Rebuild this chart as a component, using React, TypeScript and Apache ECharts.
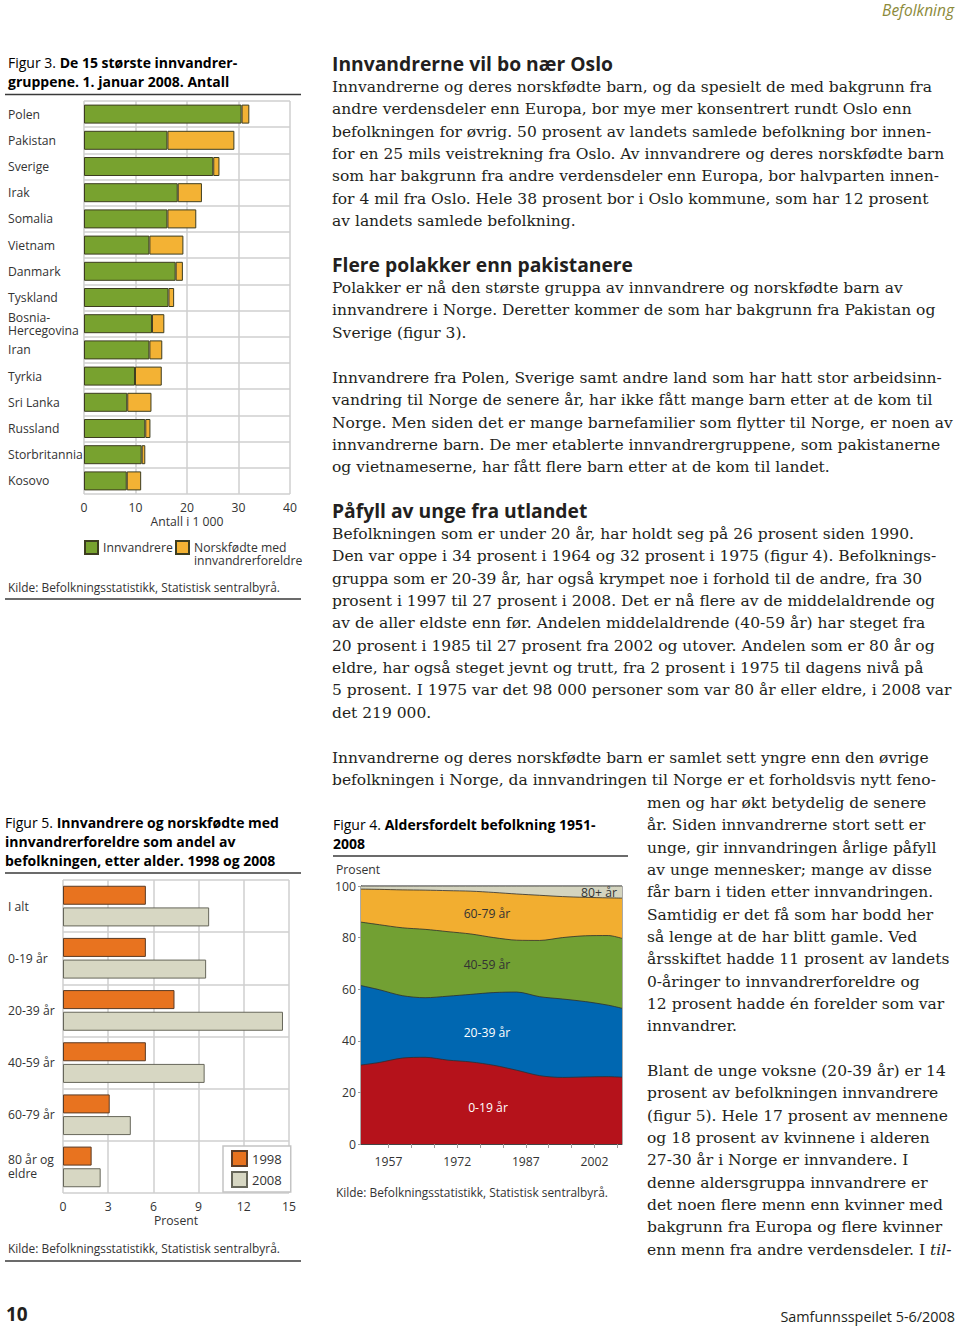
import React, { useEffect, useRef } from 'react';
import * as echarts from 'echarts';

// ---------- Figur 3 data ----------
const countries = ['Polen', 'Pakistan', 'Sverige', 'Irak', 'Somalia', 'Vietnam', 'Danmark', 'Tyskland', 'Bosnia-\nHercegovina', 'Iran', 'Tyrkia', 'Sri Lanka', 'Russland', 'Storbritannia', 'Kosovo'];
const innvandrere = [30.6, 16.2, 25.1, 18.2, 16.2, 12.7, 17.8, 16.4, 13.2, 12.7, 9.9, 8.4, 11.9, 11.2, 8.3];
const norskfodte = [1.5, 13.0, 1.2, 4.7, 5.6, 6.6, 1.4, 1.1, 2.4, 2.5, 5.2, 4.7, 1.0, 0.7, 2.8];
const fig3Ticks = [0, 10, 20, 30, 40];

// ---------- Figur 5 data ----------
const ageGroups = ['I alt', '0-19 år', '20-39 år', '40-59 år', '60-79 år', '80 år og\neldre'];
const share1998 = [5.5, 5.5, 7.4, 5.5, 3.1, 1.9];
const share2008 = [9.7, 9.5, 14.6, 9.4, 4.5, 2.5];

// ---------- Figur 4 data (prosent per aldersgruppe) ----------
const years = [1951, 1955, 1960, 1965, 1970, 1975, 1980, 1985, 1990, 1995, 2000, 2005, 2008];
const age0_19 = [30.6, 31.6, 33.3, 33.6, 32.5, 31.8, 30.5, 28.6, 26.5, 25.8, 26.0, 26.1, 25.9];
const age20_39 = [30.8, 28.2, 24.2, 23.1, 24.8, 26.2, 28.2, 30.3, 30.6, 30.4, 29.2, 27.7, 26.7];
const age40_59 = [24.6, 25.2, 26.3, 26.5, 25.0, 23.4, 21.3, 20.1, 21.8, 23.8, 25.5, 27.0, 27.1];
const age60_79 = [12.8, 13.7, 14.7, 15.2, 15.9, 16.6, 17.5, 17.9, 17.5, 15.9, 14.9, 14.6, 15.6];
const age80 = [1.2, 1.3, 1.5, 1.6, 1.8, 2.0, 2.5, 3.1, 3.6, 4.1, 4.4, 4.6, 4.7];
const ageNames = ['0-19 år', '20-39 år', '40-59 år', '60-79 år', '80+ år'];
const fig4TickYears = [1957, 1962, 1967, 1972, 1977, 1982, 1987, 1992, 1997, 2002, 2007];
const fig4LabelYears = [1957, 1972, 1987, 2002];

// ---------- Body text ----------
const p1 = [
  'Innvandrerne og deres norskfødte barn, og da spesielt de med bakgrunn fra',
  'andre verdensdeler enn Europa, bor mye mer konsentrert rundt Oslo enn',
  'befolkningen for øvrig. 50 prosent av landets samlede befolkning bor innen-',
  'for en 25 mils veistrekning fra Oslo. Av innvandrere og deres norskfødte barn',
  'som har bakgrunn fra andre verdensdeler enn Europa, bor halvparten innen-',
  'for 4 mil fra Oslo. Hele 38 prosent bor i Oslo kommune, som har 12 prosent',
  'av landets samlede befolkning.',
];
const p2 = [
  'Polakker er nå den største gruppa av innvandrere og norskfødte barn av',
  'innvandrere i Norge. Deretter kommer de som har bakgrunn fra Pakistan og',
  'Sverige (figur 3).',
];
const p3 = [
  'Innvandrere fra Polen, Sverige samt andre land som har hatt stor arbeidsinn-',
  'vandring til Norge de senere år, har ikke fått mange barn etter at de kom til',
  'Norge. Men siden det er mange barnefamilier som flytter til Norge, er noen av',
  'innvandrerne barn. De mer etablerte innvandrergruppene, som pakistanerne',
  'og vietnameserne, har fått flere barn etter at de kom til landet.',
];
const p4 = [
  'Befolkningen som er under 20 år, har holdt seg på 26 prosent siden 1990.',
  'Den var oppe i 34 prosent i 1964 og 32 prosent i 1975 (figur 4). Befolknings-',
  'gruppa som er 20-39 år, har også krympet noe i forhold til de andre, fra 30',
  'prosent i 1997 til 27 prosent i 2008. Det er nå flere av de middelaldrende og',
  'av de aller eldste enn før. Andelen middelaldrende (40-59 år) har steget fra',
  '20 prosent i 1985 til 27 prosent fra 2002 og utover. Andelen som er 80 år og',
  'eldre, har også steget jevnt og trutt, fra 2 prosent i 1975 til dagens nivå på',
  '5 prosent. I 1975 var det 98 000 personer som var 80 år eller eldre, i 2008 var',
  'det 219 000.',
];
const p5a = [
  'Innvandrerne og deres norskfødte barn er samlet sett yngre enn den øvrige',
  'befolkningen i Norge, da innvandringen til Norge er et forholdsvis nytt feno-',
];
const p5b = [
  'men og har økt betydelig de senere',
  'år. Siden innvandrerne stort sett er',
  'unge, gir innvandringen årlige påfyll',
  'av unge mennesker; mange av disse',
  'får barn i tiden etter innvandringen.',
  'Samtidig er det få som har bodd her',
  'så lenge at de har blitt gamle. Ved',
  'årsskiftet hadde 11 prosent av landets',
  '0-åringer to innvandrerforeldre og',
  '12 prosent hadde én forelder som var',
  'innvandrer.',
];
const p6 = [
  'Blant de unge voksne (20-39 år) er 14',
  'prosent av befolkningen innvandrere',
  '(figur 5). Hele 17 prosent av mennene',
  'og 18 prosent av kvinnene i alderen',
  '27-30 år i Norge er innvandere. I',
  'denne aldersgruppa innvandrere er',
  'det noen flere menn enn kvinner med',
  'bakgrunn fra Europa og flere kvinner',
];
const p6last = 'enn menn fra andre verdensdeler. I ';
const p6lastItalic = 'til-';

const SANS = '"Open Sans", "Noto Sans", sans-serif';
const SERIF = '"DejaVu Serif", serif';
const LH = 22.33;
const TXT = '#333';
const GRIDC = '#cfcfcf';
const FS = 12.2;

function buildOption(): any {
  const axisLbl = { fontFamily: SANS, fontSize: FS, color: TXT };
  const rule = (x1: number, y: number, x2: number) => ({
    type: 'line', shape: { x1, y1: y, x2, y2: y }, style: { stroke: '#3a3a3a', lineWidth: 1.3 }, silent: true,
  });
  const titleRich = {
    n: { fontFamily: SANS, fontSize: 14, fontWeight: 'normal', color: '#222', lineHeight: 19 },
    b: { fontFamily: SANS, fontSize: 14, fontWeight: 'bold', color: '#222', lineHeight: 19 },
  };
  const ftext = (x: number, y: number, text: string, extra: any = {}) => ({
    type: 'text', x, y, silent: true, z: 100,
    style: { text, fontFamily: SANS, fontSize: FS, fill: TXT, verticalAlign: 'middle', align: 'left', ...extra },
  });
  const groups = [age0_19, age20_39, age40_59, age60_79, age80];
  const colors = ['#b5121b', '#0067b1', '#72a033', '#f2ae30', '#d4d4bf'];
  // cumulative upper boundary of each age band
  const cumulative = (k: number) => years.map((yr, i) => {
    let s = 0;
    for (let j = 0; j <= k; j++) s += groups[j][i];
    return [yr, Math.round(s * 10) / 10];
  });
  const areaSeries = [4, 3, 2, 1, 0].map((k) => ({
    type: 'line', name: ageNames[k], xAxisIndex: 2, yAxisIndex: 2, data: cumulative(k),
    symbol: 'none', smooth: 0.3,
    lineStyle: { color: '#2f2f2f', width: 0.8 },
    itemStyle: { color: colors[k] },
    areaStyle: { color: colors[k], opacity: 1 },
  }));

  return {
    animation: false,
    textStyle: { fontFamily: SANS },
    grid: [
      { left: 84, top: 101, width: 206, height: 393 },
      { left: 63, top: 880, width: 226, height: 313 },
      { left: 361, top: 886, width: 261, height: 258, show: true, borderColor: '#555', borderWidth: 1 },
    ],
    xAxis: [
      {
        gridIndex: 0, type: 'value', min: fig3Ticks[0], max: fig3Ticks[fig3Ticks.length - 1], interval: 10,
        axisLine: { show: false }, axisTick: { show: false },
        splitLine: { lineStyle: { color: GRIDC, width: 1.5 } },
        axisLabel: { ...axisLbl, margin: 7 },
        name: 'Antall i 1 000', nameLocation: 'middle', nameGap: 21,
        nameTextStyle: { ...axisLbl },
      },
      {
        gridIndex: 1, type: 'value', min: 0, max: 15, interval: 3,
        axisLine: { show: false }, axisTick: { show: false },
        splitLine: { lineStyle: { color: GRIDC, width: 1.5 } },
        axisLabel: { ...axisLbl, margin: 7 },
        name: 'Prosent', nameLocation: 'middle', nameGap: 21,
        nameTextStyle: { ...axisLbl },
      },
      {
        gridIndex: 2, type: 'value', min: 1951, max: 2008,
        axisLine: { show: true, lineStyle: { color: '#444', width: 1 } },
        axisTick: { show: true, customValues: fig4TickYears, length: 4, lineStyle: { color: '#999' } },
        splitLine: { show: false },
        axisLabel: { ...axisLbl, margin: 11, customValues: fig4LabelYears, formatter: (v: number) => String(v) },
      },
    ],
    yAxis: [
      {
        gridIndex: 0, type: 'category', inverse: true, data: countries,
        axisLine: { show: false }, axisTick: { show: false },
        splitLine: { show: true, lineStyle: { color: GRIDC, width: 1.5 } },
        axisLabel: { ...axisLbl, align: 'left', margin: 76, lineHeight: 13 },
      },
      {
        gridIndex: 1, type: 'category', inverse: true, data: ageGroups,
        axisLine: { show: false }, axisTick: { show: false },
        splitLine: { show: true, lineStyle: { color: GRIDC, width: 1.5 } },
        axisLabel: { ...axisLbl, align: 'left', margin: 55, lineHeight: 14 },
      },
      {
        gridIndex: 2, type: 'value', min: 0, max: 100, interval: 20,
        axisLine: { show: true, lineStyle: { color: '#444', width: 1 } },
        axisTick: { show: true, length: 3, lineStyle: { color: '#999' } },
        splitLine: { show: false },
        axisLabel: { ...axisLbl, margin: 5 },
      },
    ],
    legend: [
      {
        left: 84, top: 540, padding: 0, itemWidth: 13, itemHeight: 13, icon: 'rect', selectedMode: false,
        data: ['Innvandrere'], textStyle: { ...axisLbl },
      },
      {
        left: 175, top: 540, padding: 0, itemWidth: 13, itemHeight: 26,
        icon: 'path://M0,0H13V13H0Z M0,26', selectedMode: false,
        data: ['Norskfødte med innvandrerforeldre'],
        formatter: () => 'Norskfødte med\ninnvandrerforeldre',
        textStyle: { ...axisLbl, lineHeight: 13 },
      },
      {
        left: 223, top: 1146, orient: 'vertical', padding: [4, 9, 4, 8], itemGap: 4,
        itemWidth: 15, itemHeight: 15, icon: 'rect', selectedMode: false,
        backgroundColor: '#fff', borderColor: '#c4c4c4', borderWidth: 1.5,
        data: ['1998', '2008'], textStyle: { ...axisLbl, fontSize: 13 },
      },
    ],
    series: [
      {
        type: 'bar', name: 'Innvandrere', xAxisIndex: 0, yAxisIndex: 0, stack: 'f3', data: innvandrere,
        barWidth: 19, itemStyle: { color: '#78a22f', borderColor: '#3d3d20', borderWidth: 1 },
      },
      {
        type: 'bar', name: 'Norskfødte med innvandrerforeldre', xAxisIndex: 0, yAxisIndex: 0, stack: 'f3', data: norskfodte,
        barWidth: 19, itemStyle: { color: '#f3b234', borderColor: '#3d3d20', borderWidth: 1 },
      },
      {
        type: 'bar', name: '1998', xAxisIndex: 1, yAxisIndex: 1, data: share1998,
        barWidth: 19, barGap: '14%', itemStyle: { color: '#e8731f', borderColor: '#5b3b25', borderWidth: 1 },
      },
      {
        type: 'bar', name: '2008', xAxisIndex: 1, yAxisIndex: 1, data: share2008,
        barWidth: 19, barGap: '14%', itemStyle: { color: '#d7d7c3', borderColor: '#66665a', borderWidth: 1 },
      },
      ...areaSeries,
    ],
    graphic: [
      // Figur 3
      { type: 'text', x: 8, y: 53, silent: true, style: { text: '{n|Figur 3. }{b|De 15 største innvandrer-}\n{b|gruppene. 1. januar 2008. Antall}', rich: titleRich } },
      rule(5, 94.5, 301),
      ftext(8, 587, 'Kilde: Befolkningsstatistikk, Statistisk sentralbyrå.', { fontSize: 11.9 }),
      rule(5, 599, 301),
      // Figur 5
      { type: 'text', x: 5, y: 813, silent: true, style: { text: '{n|Figur 5. }{b|Innvandrere og norskfødte med}\n{b|innvandrerforeldre som andel av}\n{b|befolkningen, etter alder. 1998 og 2008}', rich: titleRich } },
      rule(5, 873, 301),
      ftext(8, 1248, 'Kilde: Befolkningsstatistikk, Statistisk sentralbyrå.', { fontSize: 11.9 }),
      rule(5, 1261, 301),
      // Figur 4
      { type: 'text', x: 333, y: 815, silent: true, style: { text: '{n|Figur 4. }{b|Aldersfordelt befolkning 1951-}\n{b|2008}', rich: titleRich } },
      rule(333, 856, 628),
      ftext(336, 869, 'Prosent'),
      ftext(599, 892, '80+ år', { align: 'center', fill: '#333' }),
      ftext(487, 913, '60-79 år', { align: 'center', fill: '#333' }),
      ftext(487, 964, '40-59 år', { align: 'center', fill: '#333' }),
      ftext(487, 1032, '20-39 år', { align: 'center', fill: '#fff' }),
      ftext(488, 1107, '0-19 år', { align: 'center', fill: '#fff' }),
      ftext(336, 1192, 'Kilde: Befolkningsstatistikk, Statistisk sentralbyrå.', { fontSize: 11.9 }),
    ],
  };
}

function Lines({ x, y, lines, children }: { x: number; y: number; lines: string[]; children?: any }) {
  return (
    <div style={{
      position: 'absolute', left: x, top: y - 11, fontFamily: SERIF, fontSize: 15.5,
      lineHeight: LH + 'px', whiteSpace: 'pre', color: '#231f20',
    }}>
      {lines.join('\n')}
      {children}
    </div>
  );
}

function Heading({ x, y, text }: { x: number; y: number; text: string }) {
  return (
    <div style={{
      position: 'absolute', left: x, top: y - 13, fontFamily: SANS, fontWeight: 700, fontSize: 19.3,
      lineHeight: '26px', whiteSpace: 'pre', color: '#231f20',
    }}>{text}</div>
  );
}

export default function App() {
  const ref = useRef<HTMLDivElement>(null);
  useEffect(() => {
    const chart = echarts.init(ref.current as HTMLDivElement, null, { renderer: 'svg' });
    chart.setOption(buildOption());
    return () => chart.dispose();
  }, []);
  return (
    <div style={{ position: 'absolute', left: 0, top: 0, width: 960, height: 1328, background: '#fff', overflow: 'hidden' }}>
      <div ref={ref} style={{ position: 'absolute', left: 0, top: 0, width: 960, height: 1328 }} />
      <div style={{ position: 'absolute', right: 6, top: 0, fontFamily: SANS, fontStyle: 'italic', fontSize: 15.5, color: '#8c8a3a', lineHeight: '20px' }}>Befolkning</div>
      <Heading x={332} y={64} text="Innvandrerne vil bo nær Oslo" />
      <Lines x={332} y={87} lines={p1} />
      <Heading x={332} y={265} text="Flere polakker enn pakistanere" />
      <Lines x={332} y={288} lines={p2} />
      <Lines x={332} y={378} lines={p3} />
      <Heading x={332} y={511} text="Påfyll av unge fra utlandet" />
      <Lines x={332} y={534} lines={p4} />
      <Lines x={332} y={758} lines={p5a} />
      <Lines x={647} y={803} lines={p5b} />
      <Lines x={647} y={1071} lines={p6}>
        {'\n' + p6last}<i>{p6lastItalic}</i>
      </Lines>
      <div style={{ position: 'absolute', left: 6, top: 1304, fontFamily: SANS, fontWeight: 700, fontSize: 19, color: '#231f20', lineHeight: '20px' }}>10</div>
      <div style={{ position: 'absolute', right: 5, top: 1307, fontFamily: SANS, fontSize: 14.4, color: '#231f20', lineHeight: '19px' }}>Samfunnsspeilet 5-6/2008</div>
    </div>
  );
}
